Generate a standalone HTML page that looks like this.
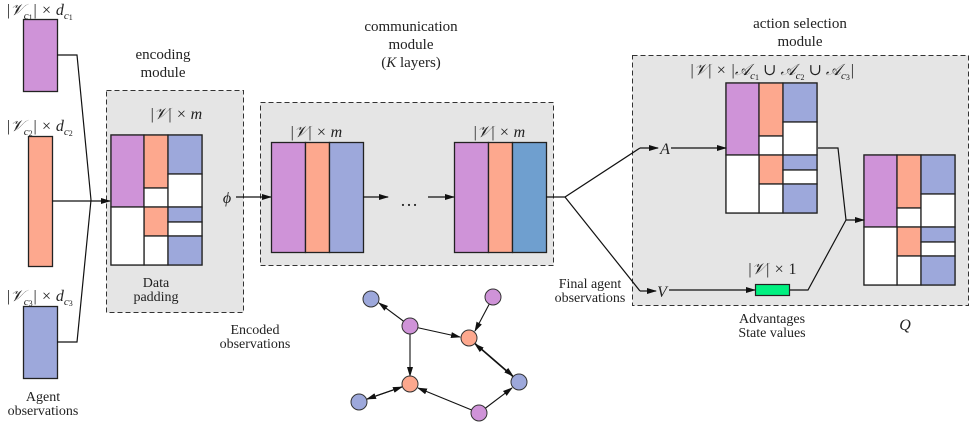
<!DOCTYPE html>
<html><head><meta charset="utf-8"><style>
html,body{margin:0;padding:0;background:#fff}
svg{display:block}
text{font-family:"Liberation Serif","DejaVu Serif",serif;fill:#222}
.s{font-size:14px}
.t{font-size:15px}
.m{font-size:16px;font-style:italic}
</style></head><body>
<svg width="969" height="423" viewBox="0 0 969 423" xmlns="http://www.w3.org/2000/svg">
<defs>
<marker id="ar" markerWidth="10" markerHeight="8" refX="9" refY="4" orient="auto" markerUnits="userSpaceOnUse">
<path d="M0,1 L10,4 L0,7 Z" fill="#111"/></marker>
<g id="pm" stroke="#222" stroke-width="1.3">
<rect x="0" y="0" width="91" height="130" fill="#fff"/>
<rect x="0" y="0" width="33" height="72" fill="#cf93d8"/>
<rect x="33" y="0" width="24" height="53" fill="#fda88e"/>
<rect x="33" y="53" width="24" height="19" fill="#fff"/>
<rect x="33" y="72" width="24" height="29" fill="#fda88e"/>
<rect x="33" y="101" width="24" height="29" fill="#fff"/>
<rect x="57" y="0" width="34" height="39" fill="#9da8db"/>
<rect x="57" y="39" width="34" height="33" fill="#fff"/>
<rect x="57" y="72" width="34" height="15" fill="#9da8db"/>
<rect x="57" y="87" width="34" height="14" fill="#fff"/>
<rect x="57" y="101" width="34" height="29" fill="#9da8db"/>
<rect x="0" y="72" width="33" height="58" fill="#fff"/>
</g>
</defs>
<rect x="106.5" y="90.5" width="137" height="222" fill="#e5e5e5" stroke="#333" stroke-dasharray="5,3"/>
<rect x="260.5" y="102.5" width="293" height="163" fill="#e5e5e5" stroke="#333" stroke-dasharray="5,3"/>
<rect x="632.5" y="55.5" width="336" height="250" fill="#e5e5e5" stroke="#333" stroke-dasharray="5,3"/>

<g stroke="#222" stroke-width="1.3">
<rect x="23.5" y="19.5" width="34" height="72" fill="#cf93d8"/>
<rect x="28.5" y="136.5" width="24" height="130" fill="#fda88e"/>
<rect x="23.5" y="306.5" width="34" height="72" fill="#9da8db"/>
</g>
<g fill="none" stroke="#111" stroke-width="1.2">
<polyline points="57,55 77,55 91,200"/>
<polyline points="57,342 77,342 91,200"/>
<line x1="52" y1="201" x2="110" y2="201" marker-end="url(#ar)"/>
</g>
<text x="6" y="15" class="m">|𝒱<tspan font-size="11" dy="4">c</tspan><tspan font-size="8" dy="1" font-style="normal">1</tspan><tspan dy="-5">| × d</tspan><tspan font-size="11" dy="4">c</tspan><tspan font-size="8" dy="1" font-style="normal">1</tspan></text>
<text x="6" y="131" class="m">|𝒱<tspan font-size="11" dy="4">c</tspan><tspan font-size="8" dy="1" font-style="normal">2</tspan><tspan dy="-5">| × d</tspan><tspan font-size="11" dy="4">c</tspan><tspan font-size="8" dy="1" font-style="normal">2</tspan></text>
<text x="6" y="301" class="m">|𝒱<tspan font-size="11" dy="4">c</tspan><tspan font-size="8" dy="1" font-style="normal">3</tspan><tspan dy="-5">| × d</tspan><tspan font-size="11" dy="4">c</tspan><tspan font-size="8" dy="1" font-style="normal">3</tspan></text>
<text x="43" y="401" class="s" text-anchor="middle">Agent</text>
<text x="43" y="415" class="s" text-anchor="middle">observations</text>

<text x="163" y="59" class="t" text-anchor="middle">encoding</text>
<text x="163" y="77" class="t" text-anchor="middle">module</text>
<text x="176" y="119" class="m" text-anchor="middle">|𝒱| × m</text>
<use href="#pm" x="111" y="135"/>
<text x="156" y="287" class="s" text-anchor="middle">Data</text>
<text x="156" y="301" class="s" text-anchor="middle">padding</text>
<text x="227" y="203" class="m" text-anchor="middle">ϕ</text>
<line x1="236" y1="197" x2="271" y2="197" stroke="#111" stroke-width="1.2" marker-end="url(#ar)"/>
<text x="255" y="334" class="s" text-anchor="middle">Encoded</text>
<text x="255" y="348" class="s" text-anchor="middle">observations</text>

<text x="411" y="31" class="t" text-anchor="middle">communication</text>
<text x="411" y="49" class="t" text-anchor="middle">module</text>
<text x="411" y="67" class="t" text-anchor="middle">(<tspan font-style="italic">K</tspan>  layers)</text>
<text x="316" y="137" class="m" text-anchor="middle">|𝒱| × m</text>
<text x="499" y="137" class="m" text-anchor="middle">|𝒱| × m</text>
<g stroke="#222" stroke-width="1.3">
<rect x="271.5" y="142.5" width="34" height="110" fill="#cf93d8"/>
<rect x="305.5" y="142.5" width="24" height="110" fill="#fda88e"/>
<rect x="329.5" y="142.5" width="34" height="110" fill="#9da8db"/>
<rect x="454.5" y="142.5" width="34" height="110" fill="#cf93d8"/>
<rect x="488.5" y="142.5" width="24" height="110" fill="#fda88e"/>
<rect x="512.5" y="142.5" width="34" height="110" fill="#6f9fcf"/>
</g>
<g fill="none" stroke="#111" stroke-width="1.2">
<line x1="363" y1="197" x2="388" y2="197" marker-end="url(#ar)"/>
<line x1="428" y1="197" x2="454" y2="197" marker-end="url(#ar)"/>
<polyline points="546,197 565,197 640,148"/>
<polyline points="565,197 640,291"/>
<line x1="640" y1="148" x2="658" y2="148" marker-end="url(#ar)"/>
<line x1="640" y1="291" x2="656" y2="291" marker-end="url(#ar)"/>
</g>
<text x="409" y="206" font-size="18" text-anchor="middle">…</text>
<text x="590" y="288" class="s" text-anchor="middle">Final agent</text>
<text x="590" y="302" class="s" text-anchor="middle">observations</text>

<text x="800" y="28" class="t" text-anchor="middle">action selection</text>
<text x="800" y="46" class="t" text-anchor="middle">module</text>
<text x="772" y="75" class="m" text-anchor="middle">|𝒱| × |𝒜<tspan font-size="11" dy="4">c</tspan><tspan font-size="8" dy="1" font-style="normal">1</tspan><tspan dy="-5"> ∪ 𝒜</tspan><tspan font-size="11" dy="4">c</tspan><tspan font-size="8" dy="1" font-style="normal">2</tspan><tspan dy="-5"> ∪ 𝒜</tspan><tspan font-size="11" dy="4">c</tspan><tspan font-size="8" dy="1" font-style="normal">3</tspan><tspan dy="-5">|</tspan></text>
<text x="665" y="154" class="m" text-anchor="middle">A</text>
<text x="662" y="297" class="m" text-anchor="middle">V</text>
<use href="#pm" x="726" y="83"/>
<use href="#pm" x="864" y="155"/>
<g fill="none" stroke="#111" stroke-width="1.2">
<line x1="671" y1="148" x2="726" y2="148" marker-end="url(#ar)"/>
<polyline points="818,148 838,148 846,220"/>
<polyline points="789,290 808,290 846,220"/>
<line x1="846" y1="220" x2="864" y2="220" marker-end="url(#ar)"/>
<line x1="669" y1="290" x2="755" y2="290" marker-end="url(#ar)"/>
</g>
<rect x="755.5" y="284.5" width="34" height="11" fill="#00f080" stroke="#222" stroke-width="1.2"/>
<text x="772" y="274" class="m" text-anchor="middle">|𝒱| × <tspan font-style="normal">1</tspan></text>
<text x="772" y="323" class="s" text-anchor="middle">Advantages</text>
<text x="772" y="337" class="s" text-anchor="middle">State values</text>
<text x="905" y="330" class="m" text-anchor="middle" font-size="19">Q</text>

<g fill="none" stroke="#111" stroke-width="1.1">
<line x1="410" y1="326" x2="379" y2="303" marker-end="url(#ar)"/>
<line x1="410" y1="326" x2="460" y2="337" marker-end="url(#ar)"/>
<line x1="493" y1="297" x2="475" y2="331" marker-end="url(#ar)"/>
<line x1="410" y1="326" x2="410" y2="376" marker-end="url(#ar)"/>
<line x1="469" y1="338" x2="513" y2="376" marker-end="url(#ar)"/>
<line x1="519" y1="382" x2="475" y2="344" marker-end="url(#ar)"/>
<line x1="359" y1="402" x2="402" y2="387" marker-end="url(#ar)"/>
<line x1="410" y1="384" x2="367" y2="399" marker-end="url(#ar)"/>
<line x1="479" y1="413" x2="418" y2="388" marker-end="url(#ar)"/>
<line x1="479" y1="413" x2="512" y2="388" marker-end="url(#ar)"/>
</g>
<g stroke="#333" stroke-width="1">
<circle cx="371" cy="299" r="8" fill="#9da8db"/>
<circle cx="493" cy="297" r="8" fill="#cf93d8"/>
<circle cx="410" cy="326" r="8" fill="#cf93d8"/>
<circle cx="469" cy="338" r="8" fill="#fda88e"/>
<circle cx="410" cy="384" r="8" fill="#fda88e"/>
<circle cx="519" cy="382" r="8" fill="#9da8db"/>
<circle cx="359" cy="402" r="8" fill="#9da8db"/>
<circle cx="479" cy="413" r="8" fill="#cf93d8"/>
</g>
</svg>
</body></html>
